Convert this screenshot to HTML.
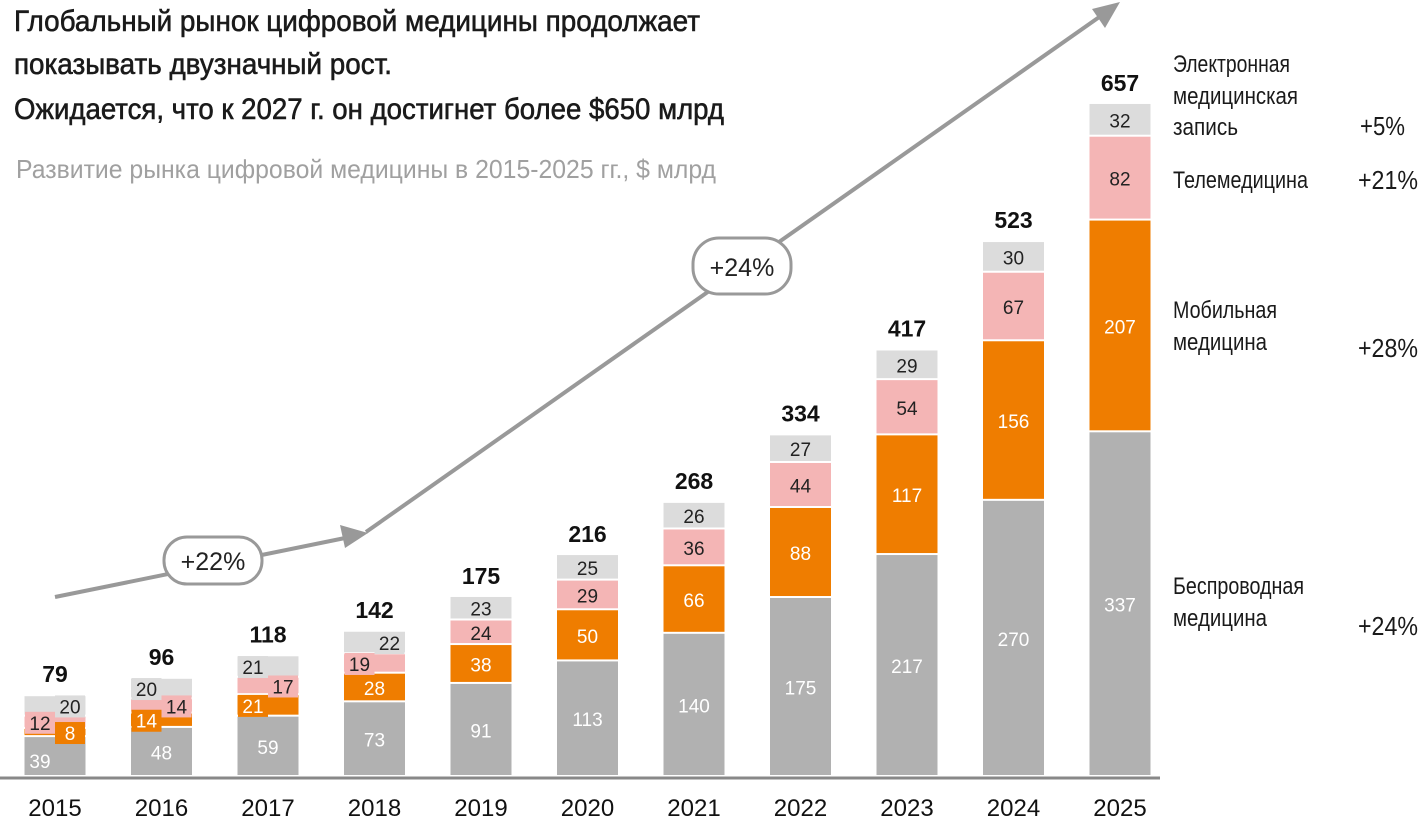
<!DOCTYPE html>
<html><head><meta charset="utf-8">
<style>
html,body{margin:0;padding:0;background:#fff;}
svg{display:block;}
.cond{font-family:"Liberation Sans Narrow","Liberation Sans","DejaVu Sans",sans-serif;}
.sans{font-family:"Liberation Sans","DejaVu Sans",sans-serif;}
</style></head>
<body>
<svg id="chart" width="1421" height="821" viewBox="0 0 1421 821">
  <g>
    <text class="cond" x="14" y="31" font-size="30" fill="#1a1a1a" stroke="#1a1a1a" stroke-width="0.6" textLength="686" lengthAdjust="spacingAndGlyphs">Глобальный рынок цифровой медицины продолжает</text>
    <text class="cond" x="14" y="74" font-size="30" fill="#1a1a1a" stroke="#1a1a1a" stroke-width="0.6" textLength="378" lengthAdjust="spacingAndGlyphs">показывать двузначный рост.</text>
    <text class="cond" x="14" y="119" font-size="30" fill="#1a1a1a" stroke="#1a1a1a" stroke-width="0.6" textLength="710" lengthAdjust="spacingAndGlyphs">Ожидается, что к 2027 г. он достигнет более $650 млрд</text>
    <text class="cond" x="16" y="178" font-size="26" fill="#a0a0a0" textLength="700" lengthAdjust="spacingAndGlyphs">Развитие рынка цифровой медицины в 2015-2025 гг., $ млрд</text>
  </g>
  <g>
    <line x1="55" y1="597" x2="350" y2="537" stroke="#999" stroke-width="4"/>
    <polygon points="368,533 340,525 345,548" fill="#999"/>
    <line x1="366" y1="532" x2="1105" y2="13" stroke="#999" stroke-width="4"/>
    <polygon points="1120,2 1092,9 1105,28" fill="#999"/>
    <rect x="164" y="537" width="98" height="47" rx="23" fill="#fff" stroke="#999" stroke-width="3"/>
    <text class="sans" x="213" y="570" font-size="25" text-anchor="middle" fill="#222">+22%</text>
    <rect x="693" y="238" width="98" height="56" rx="26" fill="#fff" stroke="#999" stroke-width="3"/>
    <text class="sans" x="742" y="276" font-size="25" text-anchor="middle" fill="#222">+24%</text>
  </g>
  <g id="bars"></g>
  <line x1="0" y1="778" x2="1160" y2="778" stroke="#888" stroke-width="3"/>
  <g id="xlabels"></g>
  <g fill="#1a1a1a">
    <text class="cond" x="1173" y="72" font-size="24" textLength="117" lengthAdjust="spacingAndGlyphs">Электронная</text>
    <text class="cond" x="1173" y="104" font-size="24" textLength="125" lengthAdjust="spacingAndGlyphs">медицинская</text>
    <text class="cond" x="1173" y="135" font-size="24" textLength="65" lengthAdjust="spacingAndGlyphs">запись</text>
    <text class="cond" x="1360" y="135" font-size="26" textLength="45" lengthAdjust="spacingAndGlyphs">+5%</text>
    <text class="cond" x="1173" y="188" font-size="24" textLength="135" lengthAdjust="spacingAndGlyphs">Телемедицина</text>
    <text class="cond" x="1358" y="189" font-size="26" textLength="60" lengthAdjust="spacingAndGlyphs">+21%</text>
    <text class="cond" x="1173" y="318" font-size="24" textLength="104" lengthAdjust="spacingAndGlyphs">Мобильная</text>
    <text class="cond" x="1173" y="350" font-size="24" textLength="94" lengthAdjust="spacingAndGlyphs">медицина</text>
    <text class="cond" x="1358" y="357" font-size="26" textLength="60" lengthAdjust="spacingAndGlyphs">+28%</text>
    <text class="cond" x="1173" y="594" font-size="24" textLength="131" lengthAdjust="spacingAndGlyphs">Беспроводная</text>
    <text class="cond" x="1173" y="626" font-size="24" textLength="94" lengthAdjust="spacingAndGlyphs">медицина</text>
    <text class="cond" x="1358" y="635" font-size="26" textLength="60" lengthAdjust="spacingAndGlyphs">+24%</text>
  </g>
</svg>
<script>
const years = [2015,2016,2017,2018,2019,2020,2021,2022,2023,2024,2025];
const wireless = [39,48,59,73,91,113,140,175,217,270,337];
const mobile = [8,14,21,28,38,50,66,88,117,156,207];
const telemed = [12,14,17,19,24,29,36,44,54,67,82];
const ehr = [20,20,21,22,23,25,26,27,29,30,32];
const totals = [79,96,118,142,175,216,268,334,417,523,657];

const NS = 'http://www.w3.org/2000/svg';
const base = 777, scale = 672/657;
const x0 = 55, step = 106.5, bw = 61;
function xc(i){ return x0 + i*step; }
function yv(v){ return base - v*scale; }

const series = [
  {vals: wireless, fill:'#b1b1b1', txt:'#fff', key:'wireless'},
  {vals: mobile, fill:'#ef7d00', txt:'#fff', key:'mobile'},
  {vals: telemed, fill:'#f4b5b5', txt:'#222', key:'telemed'},
  {vals: ehr, fill:'#dcdcdc', txt:'#222', key:'ehr'}
];
const sides = {
  wireless:[-1,0,0,0,0,0,0,0,0,0,0],
  mobile:[1,-1,-1,0,0,0,0,0,0,0,0],
  telemed:[-1,1,1,-1,0,0,0,0,0,0,0],
  ehr:[1,-1,-1,1,0,0,0,0,0,0,0]
};
const bars = document.getElementById('bars');
const labels = [];
years.forEach((yr,i)=>{
  let cum = 0;
  series.forEach(s=>{
    const v = s.vals[i];
    const yTop = yv(cum+v), yBot = yv(cum);
    const r = document.createElementNS(NS,'rect');
    r.setAttribute('x', xc(i)-bw/2);
    r.setAttribute('y', yTop);
    r.setAttribute('width', bw);
    r.setAttribute('height', Math.max(0, yBot-yTop-2));
    r.setAttribute('fill', s.fill);
    
    
    bars.appendChild(r);
    const cy = (yTop+yBot)/2;
    const side = sides[s.key][i];
    labels.push({i, v, cy, side, s, yr, yBot});
    cum += v;
  });
  const t = document.createElementNS(NS,'text');
  t.setAttribute('x', xc(i));
  t.setAttribute('y', yv(totals[i]) - 14);
  t.setAttribute('text-anchor','middle');
  t.setAttribute('font-size','23');
  t.setAttribute('font-weight','bold');
  t.setAttribute('class','sans');
  t.setAttribute('fill','#111');
  t.textContent = totals[i];
  
  
  bars.appendChild(t);
});
labels.forEach(l=>{
  let lx = xc(l.i), ly = l.cy;
  if (l.side !== 0) {
    lx = xc(l.i) + l.side*15;
    if (l.s.key==='wireless') ly = l.yBot - 16;
    const b = document.createElementNS(NS,'rect');
    b.setAttribute('x', lx-15);
    b.setAttribute('y', ly-11);
    b.setAttribute('width', 30);
    b.setAttribute('height', 22);
    b.setAttribute('fill', l.s.fill);
    
    
    bars.appendChild(b);
  }
  const t = document.createElementNS(NS,'text');
  t.setAttribute('x', lx);
  t.setAttribute('y', ly+7);
  t.setAttribute('text-anchor','middle');
  t.setAttribute('font-size','19');
  t.setAttribute('class','sans');
  t.setAttribute('fill', l.s.txt);
  t.textContent = l.v;
  
  
  bars.appendChild(t);
});
const xl = document.getElementById('xlabels');
years.forEach((yr,i)=>{
  const t = document.createElementNS(NS,'text');
  t.setAttribute('x', xc(i));
  t.setAttribute('y', 816);
  t.setAttribute('text-anchor','middle');
  t.setAttribute('font-size','24');
  t.setAttribute('class','sans');
  t.setAttribute('fill','#111');
  t.textContent = yr;
  
  
  xl.appendChild(t);
});
</script>
</body></html>
